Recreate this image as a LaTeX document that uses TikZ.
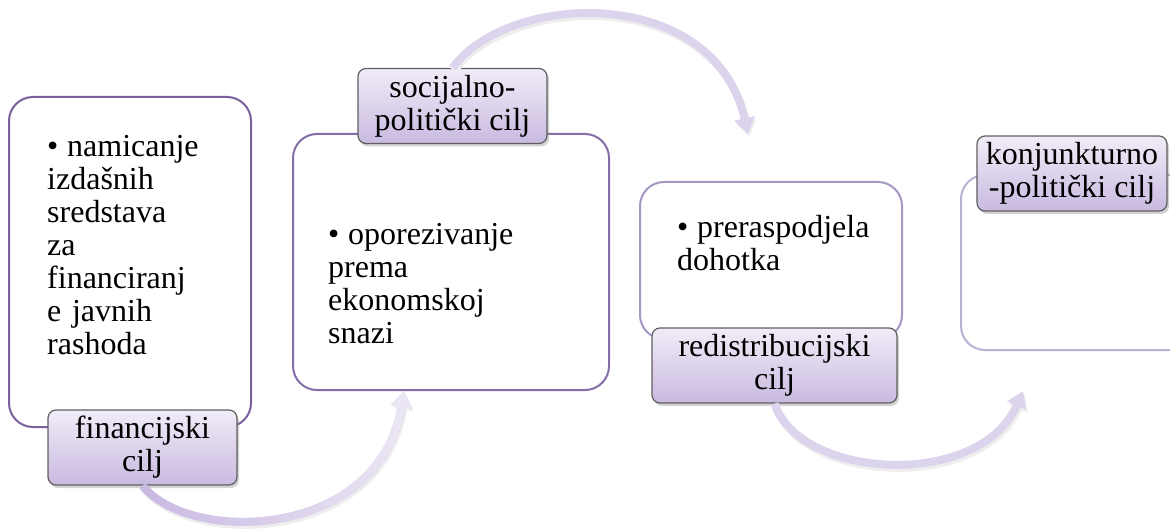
\documentclass[tikz,border=0pt]{standalone}
\usepackage{fontspec}
\setmainfont{Liberation Serif}
\usetikzlibrary{shadows,arrows.meta,fadings}

\definecolor{edgeA}{RGB}{122,97,158}
\definecolor{edgeB}{RGB}{132,110,168}
\definecolor{edgeC}{RGB}{166,150,196}
\definecolor{edgeD}{RGB}{186,176,212}
\definecolor{tagedge}{RGB}{95,95,95}
\definecolor{tagtop}{RGB}{241,236,248}
\definecolor{tagbot}{RGB}{201,186,224}
\definecolor{flowdark}{RGB}{200,185,226}
\definecolor{flow}{RGB}{220,211,237}
\definecolor{flowlight}{RGB}{236,231,245}
\definecolor{flowshade}{RGB}{238,238,238}

\tikzfading[name=fadeup right, left color=transparent!100, right color=transparent!0]

\tikzset{
    goalbox/.style={draw, line width=2pt, rounded corners=24pt, fill=white, inner sep=0pt},
    goaltag/.style={draw=tagedge, line width=1.2pt, rounded corners=8pt, top color=tagtop, bottom color=tagbot,
        minimum height=75pt, inner sep=0pt, align=center, font=\fontsize{32}{33}\selectfont,
        drop shadow={shadow xshift=2pt, shadow yshift=-3pt, opacity=0.35}},
    goaltext/.style={anchor=base west, text width=240pt, inner sep=0pt, align=left, font=\fontsize{32}{33}\selectfont},
    flowarrow/.style={line width=8pt, draw=flow, -{Triangle[length=16pt, width=20pt]}},
    flowback/.style={line width=8pt, draw=flowshade, -{Triangle[length=16pt, width=20pt]}, transform canvas={xshift=1.5pt, yshift=-3pt}}
}

\newcommand{\goalitem}{\hangindent=20pt\hangafter=1\makebox[20pt][l]{\textbullet}}

\begin{document}
\begin{tikzpicture}[x=1pt, y=-1pt]

        \clip (0,0) rectangle (1170,529);

        % Boxes
        \node[goalbox, draw=edgeA, minimum width=242pt, minimum height=330pt] (box1) at (130,262){};
        \node[goalbox, draw=edgeB, minimum width=316pt, minimum height=256pt] (box2) at (451,262){};
        \node[goalbox, draw=edgeC, minimum width=262pt, minimum height=157pt] (box3) at (771,260.5){};
        \node[goalbox, draw=edgeD, minimum width=262pt, minimum height=175pt] (box4) at (1092,262.5){};

        % Bullet texts
        \node[goaltext] (text1) at (47,157){\goalitem namicanje\\izdašnih\\sredstava\\za\\financiranj\\e javnih\\rashoda};
        \node[goaltext] (text2) at (328,245){\goalitem oporezivanje\\prema\\ekonomskoj\\snazi};
        \node[goaltext] (text3) at (677,238){\goalitem preraspodjela\\dohotka};

        % Goal tags
        \node[goaltag, minimum width=189pt] (tag1) at (142.5,447.5){financijski\\cilj};
        \node[goaltag, minimum width=189pt] (tag2) at (452.5,106){socijalno-\\politički cilj};
        \node[goaltag, minimum width=245pt] (tag3) at (774.5,365.5){redistribucijski\\cilj};
        \node[goaltag, minimum width=190pt] (tag4) at (1072,173.5){konjunkturno\\-politički cilj};

        % Arrows
        \coordinate (in3) at (748,134);
        \coordinate (in4) at (1023,391);
        \draw[flowback] (tag1.south) .. controls (190,545) and (380,540) .. (box2.250);
        \draw[flowback] (tag2.north) .. controls (510,-10) and (715,-15) .. (in3);
        \draw[flowback] (tag3.south) .. controls (800,480) and (980,490) .. (in4);
        \draw[flowarrow, draw=flowdark] (tag1.south) .. controls (190,545) and (380,540) .. (box2.250);
        \draw[flowarrow, draw=flowlight, path fading=fadeup right] (tag1.south) .. controls (190,545) and (380,540) .. (box2.250);
        \draw[flowarrow] (tag2.north) .. controls (510,-10) and (715,-15) .. (in3);
        \draw[flowarrow] (tag3.south) .. controls (800,480) and (980,490) .. (in4);

    \end{tikzpicture}
\end{document}
